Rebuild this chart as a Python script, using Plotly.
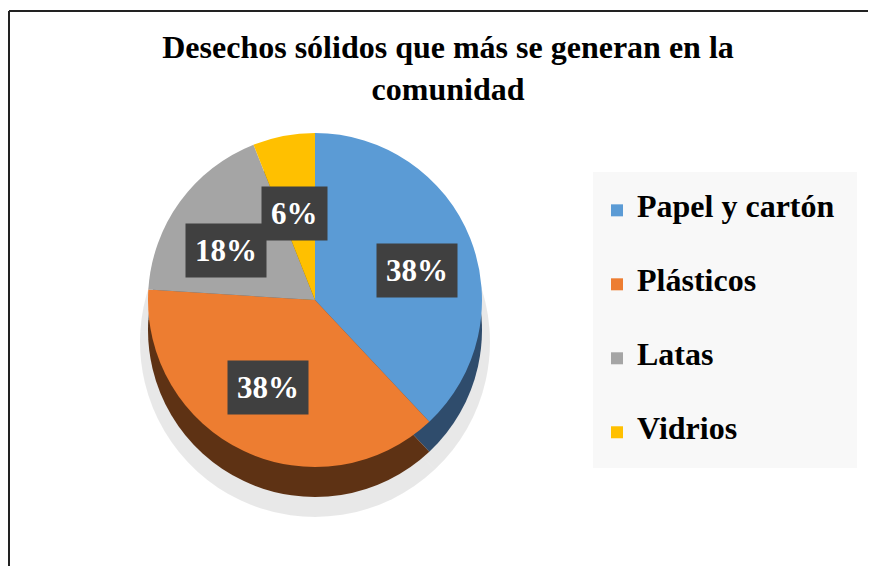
import math
import plotly.graph_objects as go

# ---- data ----
categories = ["Papel y cartón", "Plásticos", "Latas", "Vidrios"]
values = [38, 38, 18, 6]
title_text = "Desechos sólidos que más se generan en la<br>comunidad"

# ---- style ----
W, H = 876, 566
OFF = 8  # page body margin: design in screen pixels, shift into figure pixels
FONT = "Liberation Serif, Times New Roman, serif"
top_colors = ["#5B9BD5", "#ED7D31", "#A5A5A5", "#FFC000"]
side_colors = ["#2F4C6C", "#5E3214", "#555555", "#7F6000"]


def X(px):
    return (px - OFF) / W


def Y(py):
    return 1 - (py - OFF) / H


cx, cy, r = 315, 300, 167      # pie centre / radius in screen pixels
depth = 30                     # pseudo-3D thickness in pixels


def dom(cx_, cy_, r_):
    return dict(x=[X(cx_ - r_), X(cx_ + r_)], y=[Y(cy_ + r_), Y(cy_ - r_)])


fig = go.Figure()
# soft shadow
fig.add_trace(go.Pie(
    labels=categories, values=values, sort=False, direction="clockwise",
    rotation=0, domain=dom(cx, cy + depth + 12, r + 8),
    marker=dict(colors=["rgba(0,0,0,0.09)"] * 4, line=dict(width=0)),
    textinfo="none", hoverinfo="skip", showlegend=False))
# side (depth)
fig.add_trace(go.Pie(
    labels=categories, values=values, sort=False, direction="clockwise",
    rotation=0, domain=dom(cx, cy + depth, r),
    marker=dict(colors=side_colors, line=dict(width=0)),
    textinfo="none", hoverinfo="skip", showlegend=False))
# top face (legend labels padded with blank lines to space the entries)
legend_labels = [f"<span style='font-size:32px'>{c}</span><br> <br> " for c in categories]
fig.add_trace(go.Pie(
    labels=legend_labels, values=values, sort=False, direction="clockwise",
    rotation=0, domain=dom(cx, cy, r),
    marker=dict(colors=top_colors, line=dict(width=0)),
    textinfo="none", hovertext=categories, hoverinfo="text+percent",
    showlegend=True))

# data labels in dark boxes, positioned from slice mid-angles
total = sum(values)
cum = 0
for v in values:
    mid = (cum + v / 2) / total * 2 * math.pi
    cum += v
    px = cx + 0.66 * r * math.sin(mid)
    py = cy - 0.55 * r * math.cos(mid) + 4
    fig.add_annotation(
        x=X(px), y=Y(py), xref="paper", yref="paper",
        xanchor="center", yanchor="middle",
        text=f"{round(v / total * 100)}%", showarrow=False,
        font=dict(family=FONT, size=31, color="white", weight="bold"),
        bgcolor="#404040", borderpad=9)

fig.update_layout(
    width=W, height=H,
    margin=dict(l=0, r=0, t=0, b=0),
    paper_bgcolor="white",
    title=dict(text=title_text, x=X(448), xanchor="center",
               y=Y(58), yanchor="top",
               font=dict(family=FONT, size=32, color="black", weight="bold")),
    legend=dict(x=X(597), y=Y(192), xanchor="left", yanchor="top",
                bgcolor="rgba(0,0,0,0)", valign="top",
                font=dict(family=FONT, size=18.2, color="black", weight="bold"),
                itemwidth=30),
    shapes=[
        dict(type="rect", xref="paper", yref="paper",
             x0=X(593), x1=X(857), y0=Y(468), y1=Y(172),
             fillcolor="#F8F8F8", line=dict(width=0), layer="below"),
        dict(type="line", xref="paper", yref="paper",
             x0=X(9), x1=X(9), y0=0, y1=Y(11),
             line=dict(color="#222222", width=2)),
        dict(type="line", xref="paper", yref="paper",
             x0=X(9), x1=1.05, y0=Y(11), y1=Y(11),
             line=dict(color="#222222", width=2)),
    ],
)

fig.write_html("out.html")
